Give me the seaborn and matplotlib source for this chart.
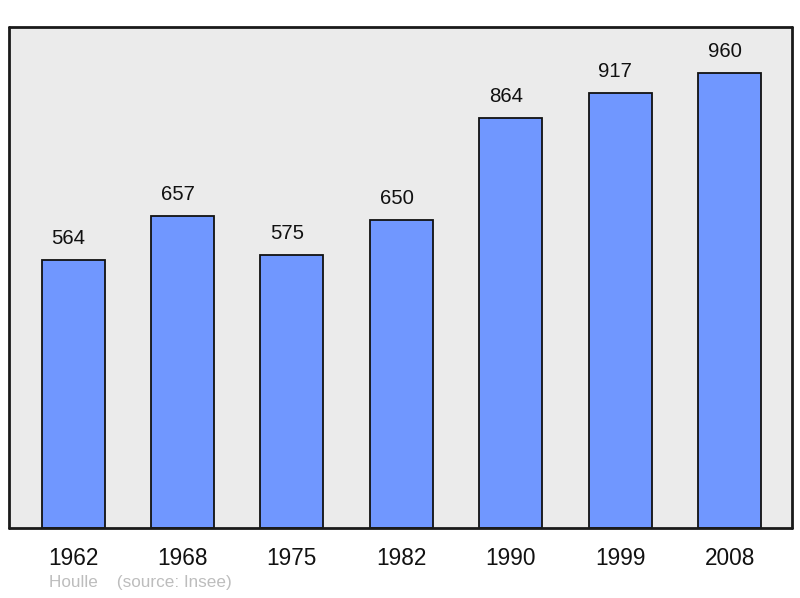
import matplotlib
matplotlib.use("Agg")
import matplotlib.pyplot as plt
import seaborn as sns
import pandas as pd

years = ["1962", "1968", "1975", "1982", "1990", "1999", "2008"]
population = [564, 657, 575, 650, 864, 917, 960]
source_text = "Houlle    (source: Insee)"

sns.set_theme(style="white")
plt.rcParams["font.family"] = ["Liberation Sans", "DejaVu Sans"]

df = pd.DataFrame({"year": years, "pop": population})

fig = plt.figure(figsize=(8, 5.98), dpi=100)
fig.patch.set_facecolor("white")
W, H = 800, 598
ax = fig.add_axes([8.5 / W, (H - 528) / H, 783 / W, 501 / H])
ax.set_facecolor("#ebebeb")

sns.barplot(data=df, x="year", y="pop", ax=ax, color="#7097ff", width=0.575,
            edgecolor="#111111", linewidth=1.3, saturation=1, errorbar=None)

for i, v in enumerate(population):
    ax.annotate(str(v), (i, v), xytext=(-3.5, 15.5), textcoords="offset points",
                ha="center", va="center", fontsize=14.7, color="#111111")

ax.set_xlim(-0.59, 6.565)
ax.set_ylim(0, 1056)
ax.set_yticks([])
ax.set_xlabel("")
ax.set_ylabel("")
ax.tick_params(axis="x", length=0, pad=14, labelsize=16.3, labelcolor="#111111")
for s in ax.spines.values():
    s.set_visible(True)
    s.set_color("#1a1a1a")
    s.set_linewidth(2)
    s.set_joinstyle("round")
    s.set_capstyle("round")

fig.text(49 / W, 1 - 583 / H, source_text, fontsize=12.3, color="#bdbdbd",
         ha="left", va="center")

fig.savefig("out.png", dpi=100, facecolor="white")
